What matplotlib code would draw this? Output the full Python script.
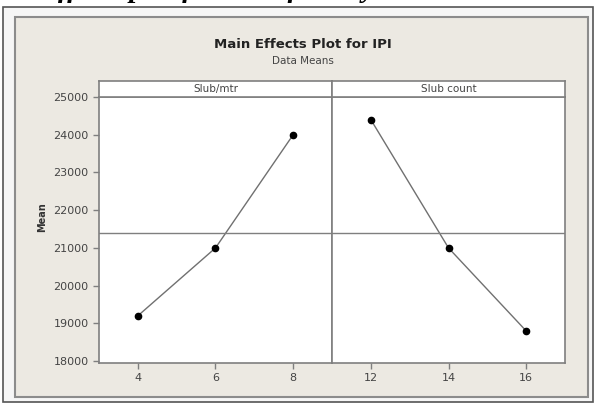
import numpy as np
import matplotlib
matplotlib.use("Agg")
import matplotlib.pyplot as plt
from matplotlib.patches import Rectangle

# data
slub_mtr = [4, 6, 8]
ipi_slub_mtr = [19200, 21000, 24000]
slub_count = [12, 14, 16]
ipi_slub_count = [24400, 21000, 18800]
y_ticks = list(range(18000, 25001, 1000))
grand_mean = np.mean(ipi_slub_mtr + ipi_slub_count)

W, H = 595, 405
fig = plt.figure(figsize=(W / 100, H / 100), dpi=100, facecolor="white")

# cut-off caption above the screenshot (only descenders visible)
fig.text(-0.045, 1.0 + 3 / H, "Main effects plot for IPI of slub yarn",
         ha="left", va="baseline", fontsize=21, family="Liberation Serif",
         style="italic", weight="bold", color="black")

# screenshot frame and beige Minitab panel
fig.patches.append(Rectangle((3 / W, 1 - 402 / H), 590 / W, 395 / H,
                             transform=fig.transFigure, facecolor="#f6f6f6",
                             edgecolor="#555555", lw=1.2, zorder=-2))
fig.patches.append(Rectangle((15 / W, 1 - 397 / H), 573 / W, 380 / H,
                             transform=fig.transFigure, facecolor="#ece9e2",
                             edgecolor="#8c8c8c", lw=1.5, zorder=-1))

L, D, R = 99 / W, 332 / W, 565 / W
B, T, ST = 1 - 363 / H, 1 - 97 / H, 1 - 81 / H

ax1 = fig.add_axes([L, B, D - L, T - B])
ax2 = fig.add_axes([D, B, R - D, T - B], sharey=ax1)
s1 = fig.add_axes([L, T, D - L, ST - T])
s2 = fig.add_axes([D, T, R - D, ST - T])

gray = "#7f7f7f"
for ax, x, y, lim in [(ax1, slub_mtr, ipi_slub_mtr, (3, 9)),
                      (ax2, slub_count, ipi_slub_count, (11, 17))]:
    ax.plot(x, y, color="#707070", lw=1.0, marker="o", markersize=4.5,
            markerfacecolor="black", markeredgecolor="black")
    ax.axhline(grand_mean, color=gray, lw=1.0)
    ax.set_xlim(*lim)
    ax.set_xticks(x)
    ax.set_ylim(17950, 25000)
    for sp in ax.spines.values():
        sp.set_color(gray)
        sp.set_linewidth(1.2)
    ax.tick_params(direction="out", length=4, color=gray, labelsize=8,
                   labelcolor="#444444", width=1)

ax1.set_yticks(y_ticks)
ax2.tick_params(axis="y", left=False, labelleft=False)

for s, label in [(s1, "Slub/mtr"), (s2, "Slub count")]:
    s.set_xticks([])
    s.set_yticks([])
    for sp in s.spines.values():
        sp.set_color(gray)
        sp.set_linewidth(1.2)
    s.text(0.5, 0.5, label, ha="center", va="center", fontsize=7.5,
           color="#444444", transform=s.transAxes)

fig.text(303 / W, 1 - 44 / H, "Main Effects Plot for IPI", ha="center",
         va="center", fontsize=9.5, weight="bold", color="#222222")
fig.text(303 / W, 1 - 61 / H, "Data Means", ha="center", va="center",
         fontsize=7.5, color="#444444")
fig.text(42 / W, 1 - 217 / H, "Mean", ha="center", va="center", rotation=90,
         fontsize=7, weight="bold", color="#333333")

fig.savefig("out.png", dpi=100, facecolor="white")
